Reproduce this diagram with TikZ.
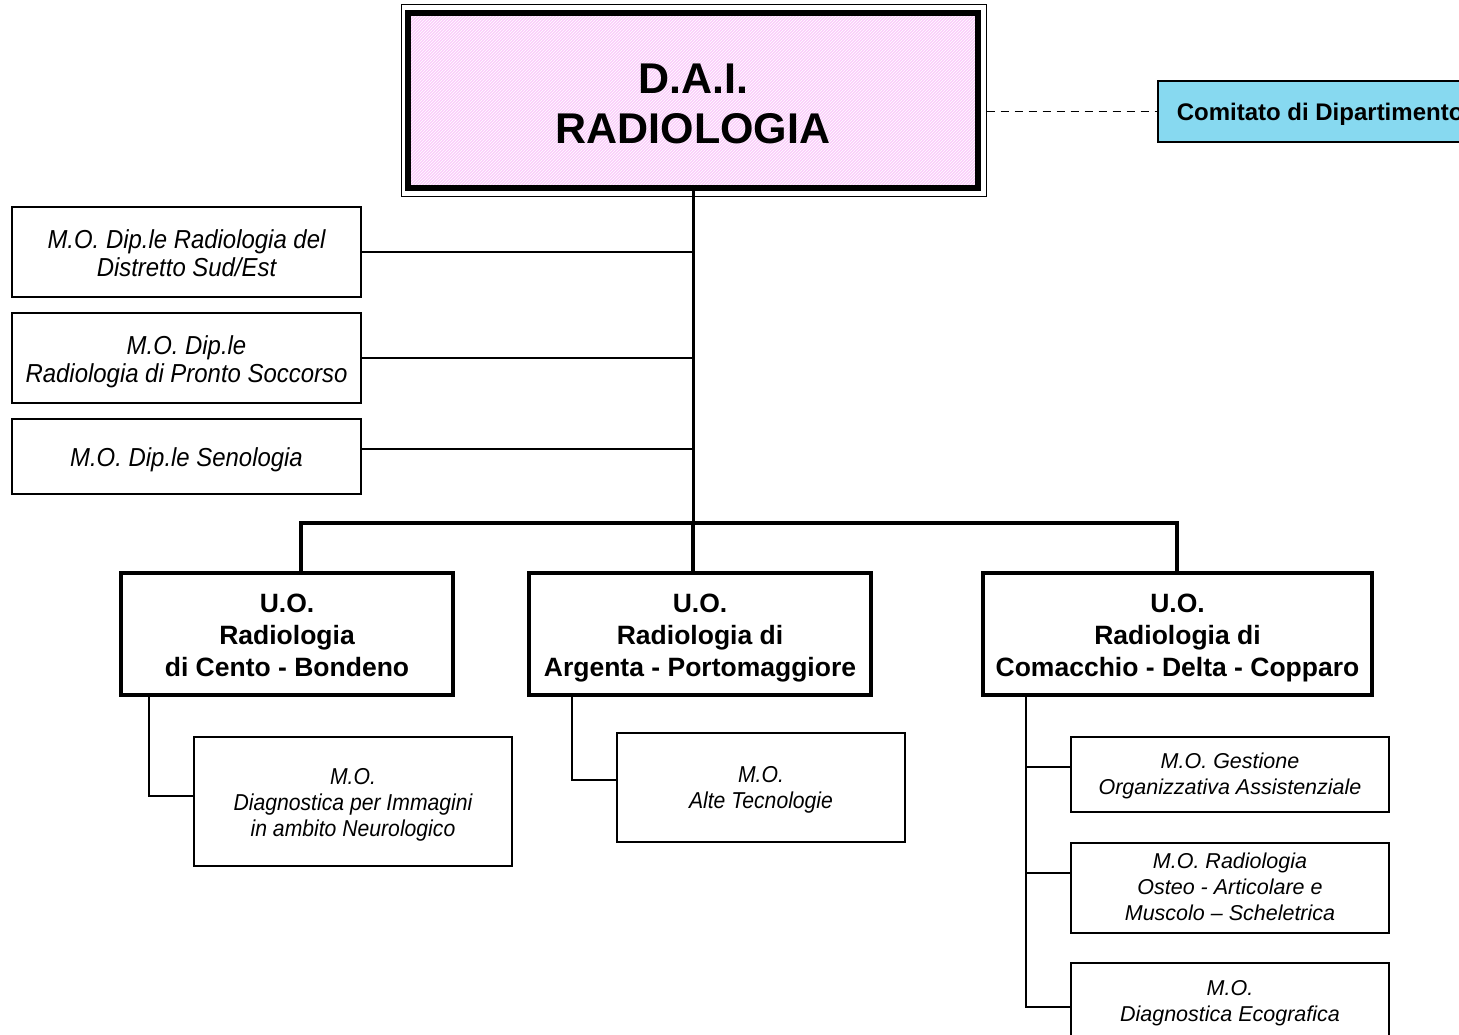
\documentclass[tikz,border=0pt]{standalone}
\usepackage{fontspec}
\setmainfont{Liberation Sans}
\newfontfamily\narrowfont[FakeStretch=0.92]{Liberation Sans}
\usetikzlibrary{patterns}
\definecolor{daipink}{RGB}{250,205,250}
\definecolor{comblue}{RGB}{135,217,240}
\tikzset{
  leftbox/.style={draw, line width=1.5pt, inner sep=0pt, align=center, minimum width=349pt,
    text depth=0pt, font=\narrowfont\itshape\fontsize{26}{28}\selectfont},
  subbox/.style={draw, line width=1.5pt, inner sep=0pt, align=center, text depth=0pt,
    font=\narrowfont\itshape\fontsize{23}{26}\selectfont},
  rsubbox/.style={draw, line width=1.5pt, inner sep=0pt, align=center, minimum width=318pt,
    text depth=0pt, font=\itshape\fontsize{21.5}{26}\selectfont},
  uobox/.style={draw, line width=3.5pt, inner sep=0pt, align=center, minimum height=122pt,
    text height=85pt, text depth=0pt, font=\bfseries\fontsize{26.5}{32}\selectfont},
  thinline/.style={line width=1.8pt},
  subline/.style={line width=2.4pt},
  trunk/.style={line width=3pt},
  busline/.style={line width=4pt},
}
\begin{document}
\begin{tikzpicture}[x=1pt,y=-1pt]
\useasboundingbox (0,0) rectangle (1459,1035);
\fill[white] (0,0) rectangle (1459,1035);
\clip (0,0) rectangle (1459,1035);

% DAI box
\node[draw, line width=1pt, inner sep=0pt, minimum width=585pt, minimum height=192pt] (daiframe) at (693.5,101) {};
\node[draw, line width=6pt, inner sep=0pt, minimum width=570pt, minimum height=175pt,
  preaction={fill=daipink}, pattern=north east lines, pattern color=white, align=center,
  text height=85.8pt, text depth=0pt,
  font=\bfseries\fontsize{43}{50}\selectfont] (dai) at (693,100.5) {D.A.I.\\RADIOLOGIA};

% Comitato
\node[draw, line width=1.5pt, fill=comblue, anchor=west, minimum height=61pt, inner xsep=19pt,
  text height=17.2pt, text depth=0pt,
  font=\bfseries\fontsize{24}{28}\selectfont] (com) at (1157,111.5) {Comitato di Dipartimento};
\draw[line width=1.4pt, dash pattern=on 8pt off 6pt] (daiframe.east |- com.west) -- (com.west);

% left boxes
\node[leftbox, minimum height=90pt, text height=48.6pt] (lb1) at (186.5,252) {M.O. Dip.le Radiologia del\\Distretto Sud/Est};
\node[leftbox, minimum height=90pt, text height=48.6pt] (lb2) at (186.5,358) {M.O. Dip.le\\Radiologia di Pronto Soccorso};
\node[leftbox, minimum height=75pt, text height=19.6pt] (lb3) at (186.5,456.5) {M.O. Dip.le Senologia};

% bus coordinates
\coordinate (busM) at (693,523);
\coordinate (dropA) at (301,523);
\coordinate (dropC) at (1177,523);
\coordinate (l3) at (361,449);

\draw[trunk] (dai.south) -- (busM);
\draw[thinline] (lb1.east) -- (lb1.east -| busM);
\draw[thinline] (lb2.east) -- (lb2.east -| busM);
\draw[thinline] (lb3.east |- l3) -- (l3 -| busM);

% U.O. boxes
\node[uobox, minimum width=332pt] (uoA) at (287,634) {U.O.\\Radiologia\\di Cento - Bondeno};
\node[uobox, minimum width=342pt] (uoB) at (700,634) {U.O.\\Radiologia di\\Argenta - Portomaggiore};
\node[uobox, minimum width=389pt] (uoC) at (1177.5,634) {U.O.\\Radiologia di\\Comacchio - Delta - Copparo};

\draw[busline, line cap=rect] (dropA) -- (dropC);
\draw[busline] (dropA) -- (dropA |- uoA.north);
\draw[busline] (busM) -- (busM |- uoB.north);
\draw[busline] (dropC) -- (dropC |- uoC.north);

% sub boxes
\node[subbox, minimum width=318pt, minimum height=129pt, text height=69.5pt] (sA) at (353,801.5) {M.O.\\Diagnostica per Immagini\\in ambito Neurologico};
\node[subbox, minimum width=288pt, minimum height=109pt, text height=41.5pt] (sB) at (761,787.5) {M.O.\\Alte Tecnologie};
\node[rsubbox, minimum height=75pt, text height=40.4pt] (sC1) at (1230,774.5) {M.O. Gestione\\Organizzativa Assistenziale};
\node[rsubbox, minimum height=90pt, text height=65.4pt] (sC2) at (1230,888) {M.O. Radiologia\\Osteo - Articolare e\\Muscolo – Scheletrica};
\node[rsubbox, minimum height=77pt, text height=40.4pt] (sC3) at (1230,1001.5) {M.O.\\Diagnostica Ecografica};

\coordinate (aA) at (149,796);
\draw[subline] (aA |- uoA.south) -- (aA) -- (aA -| sA.west);
\coordinate (aB) at (572,780);
\draw[subline] (aB |- uoB.south) -- (aB) -- (aB -| sB.west);
\coordinate (c1) at (1026,767);
\coordinate (c2) at (1026,873);
\coordinate (c3) at (1026,1007);
\draw[subline] (c1 |- uoC.south) -- (c3) -- (c3 -| sC3.west);
\draw[subline] (c1) -- (c1 -| sC1.west);
\draw[subline] (c2) -- (c2 -| sC2.west);
\end{tikzpicture}
\end{document}
